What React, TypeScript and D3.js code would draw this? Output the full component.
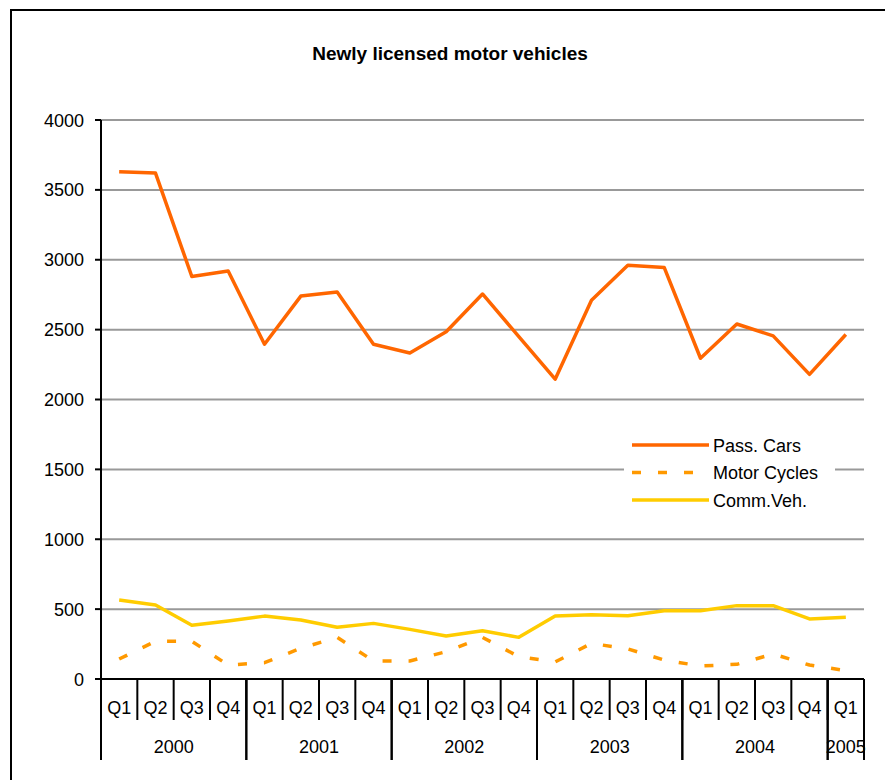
import React from "react";
import * as d3 from "d3";

const years = ["2000", "2001", "2002", "2003", "2004", "2005"];
const quarters = ["Q1", "Q2", "Q3", "Q4"];
const categories = [
  "2000Q1","2000Q2","2000Q3","2000Q4",
  "2001Q1","2001Q2","2001Q3","2001Q4",
  "2002Q1","2002Q2","2002Q3","2002Q4",
  "2003Q1","2003Q2","2003Q3","2003Q4",
  "2004Q1","2004Q2","2004Q3","2004Q4",
  "2005Q1",
];
const passCars = [3630, 3620, 2880, 2920, 2395, 2740, 2770, 2395, 2333, 2485, 2755, 2450, 2145, 2710, 2960, 2945, 2295, 2540, 2455, 2180, 2465];
const motorCycles = [143, 270, 270, 100, 117, 220, 298, 129, 129, 195, 298, 160, 122, 255, 215, 136, 93, 105, 179, 100, 60];
const commVeh = [565, 530, 385, 415, 450, 422, 370, 398, 355, 308, 345, 298, 450, 460, 453, 489, 489, 525, 525, 430, 442];
const yTicks = [0, 500, 1000, 1500, 2000, 2500, 3000, 3500, 4000];

const series = [
  { name: "Pass. Cars", values: passCars, color: "#FF6600", dash: "none" },
  { name: "Motor Cycles", values: motorCycles, color: "#FF9900", dash: "9,17" },
  { name: "Comm.Veh.", values: commVeh, color: "#FFCC00", dash: "none" },
];

const FONT = "'Liberation Sans', Arial, sans-serif";

export default function App() {
  const left = 101, right = 864, top = 120, bottom = 679;
  const x = d3.scaleBand<string>().domain(categories).range([left, right]).paddingInner(0).paddingOuter(0);
  const y = d3.scaleLinear().domain([0, 4000]).range([bottom, top]);
  const bw = x.bandwidth();
  const cx = (c: string) => (x(c) as number) + bw / 2;

  const line = (vals: number[]) =>
    d3.line<number>().x((_, i) => cx(categories[i])).y((v) => y(v))(vals) as string;

  const yearGroups = years.map((yr) => {
    const cats = categories.filter((c) => c.startsWith(yr));
    const x0 = x(cats[0]) as number;
    const x1 = (x(cats[cats.length - 1]) as number) + bw;
    return { yr, x0, x1 };
  });

  const legendX = 632, legendY = 445, legendGap = 27.5;

  return (
    <svg width={885} height={780} style={{ position: "absolute", left: 0, top: 0, background: "#fff" }} fontFamily={FONT}>
      <rect x={11} y={10} width={950} height={850} fill="#fff" stroke="#000" strokeWidth={2} />
      <text x={450} y={60} textAnchor="middle" fontSize={19} fontWeight="bold">Newly licensed motor vehicles</text>

      {yTicks.filter((t) => t > 0).map((t) => (
        <line key={"g" + t} x1={left} x2={right} y1={y(t)} y2={y(t)} stroke="#999" strokeWidth={2} />
      ))}

      {series.map((s) => (
        <path key={s.name} d={line(s.values)} fill="none" stroke={s.color} strokeWidth={3.5} strokeDasharray={s.dash} strokeLinejoin="round" />
      ))}

      {/* y axis */}
      <line x1={left} x2={left} y1={top} y2={bottom} stroke="#000" strokeWidth={2} />
      {yTicks.map((t) => (
        <g key={"t" + t}>
          <line x1={left - 6} x2={left} y1={y(t)} y2={y(t)} stroke="#000" strokeWidth={2} />
          <text x={84} y={y(t) + 6.5} textAnchor="end" fontSize={18}>{t}</text>
        </g>
      ))}

      {/* x axis */}
      <line x1={left} x2={right} y1={bottom} y2={bottom} stroke="#000" strokeWidth={2} />
      {categories.map((c, i) => (
        <g key={c}>
          <line x1={(x(c) as number) + bw} x2={(x(c) as number) + bw} y1={bottom} y2={720} stroke="#000" strokeWidth={2} />
          <text x={cx(c)} y={714} textAnchor="middle" fontSize={18}>{quarters[i % 4]}</text>
        </g>
      ))}
      {yearGroups.map((g) => (
        <g key={g.yr}>
          <line x1={g.x0} x2={g.x0} y1={bottom} y2={760} stroke="#000" strokeWidth={2} />
          <line x1={g.x1} x2={g.x1} y1={bottom} y2={760} stroke="#000" strokeWidth={2} />
          <text x={(g.x0 + g.x1) / 2} y={753} textAnchor="middle" fontSize={18}>{g.yr}</text>
        </g>
      ))}

      {/* legend */}
      <rect x={624} y={432} width={211} height={80} fill="#fff" />
      {series.map((s, i) => (
        <g key={"l" + s.name}>
          <line x1={legendX} x2={legendX + 77} y1={legendY + i * legendGap} y2={legendY + i * legendGap} stroke={s.color} strokeWidth={3.5} strokeDasharray={s.dash} />
          <text x={713} y={legendY + i * legendGap + 6.5} fontSize={18} fill="#000">{s.name}</text>
        </g>
      ))}
    </svg>
  );
}
